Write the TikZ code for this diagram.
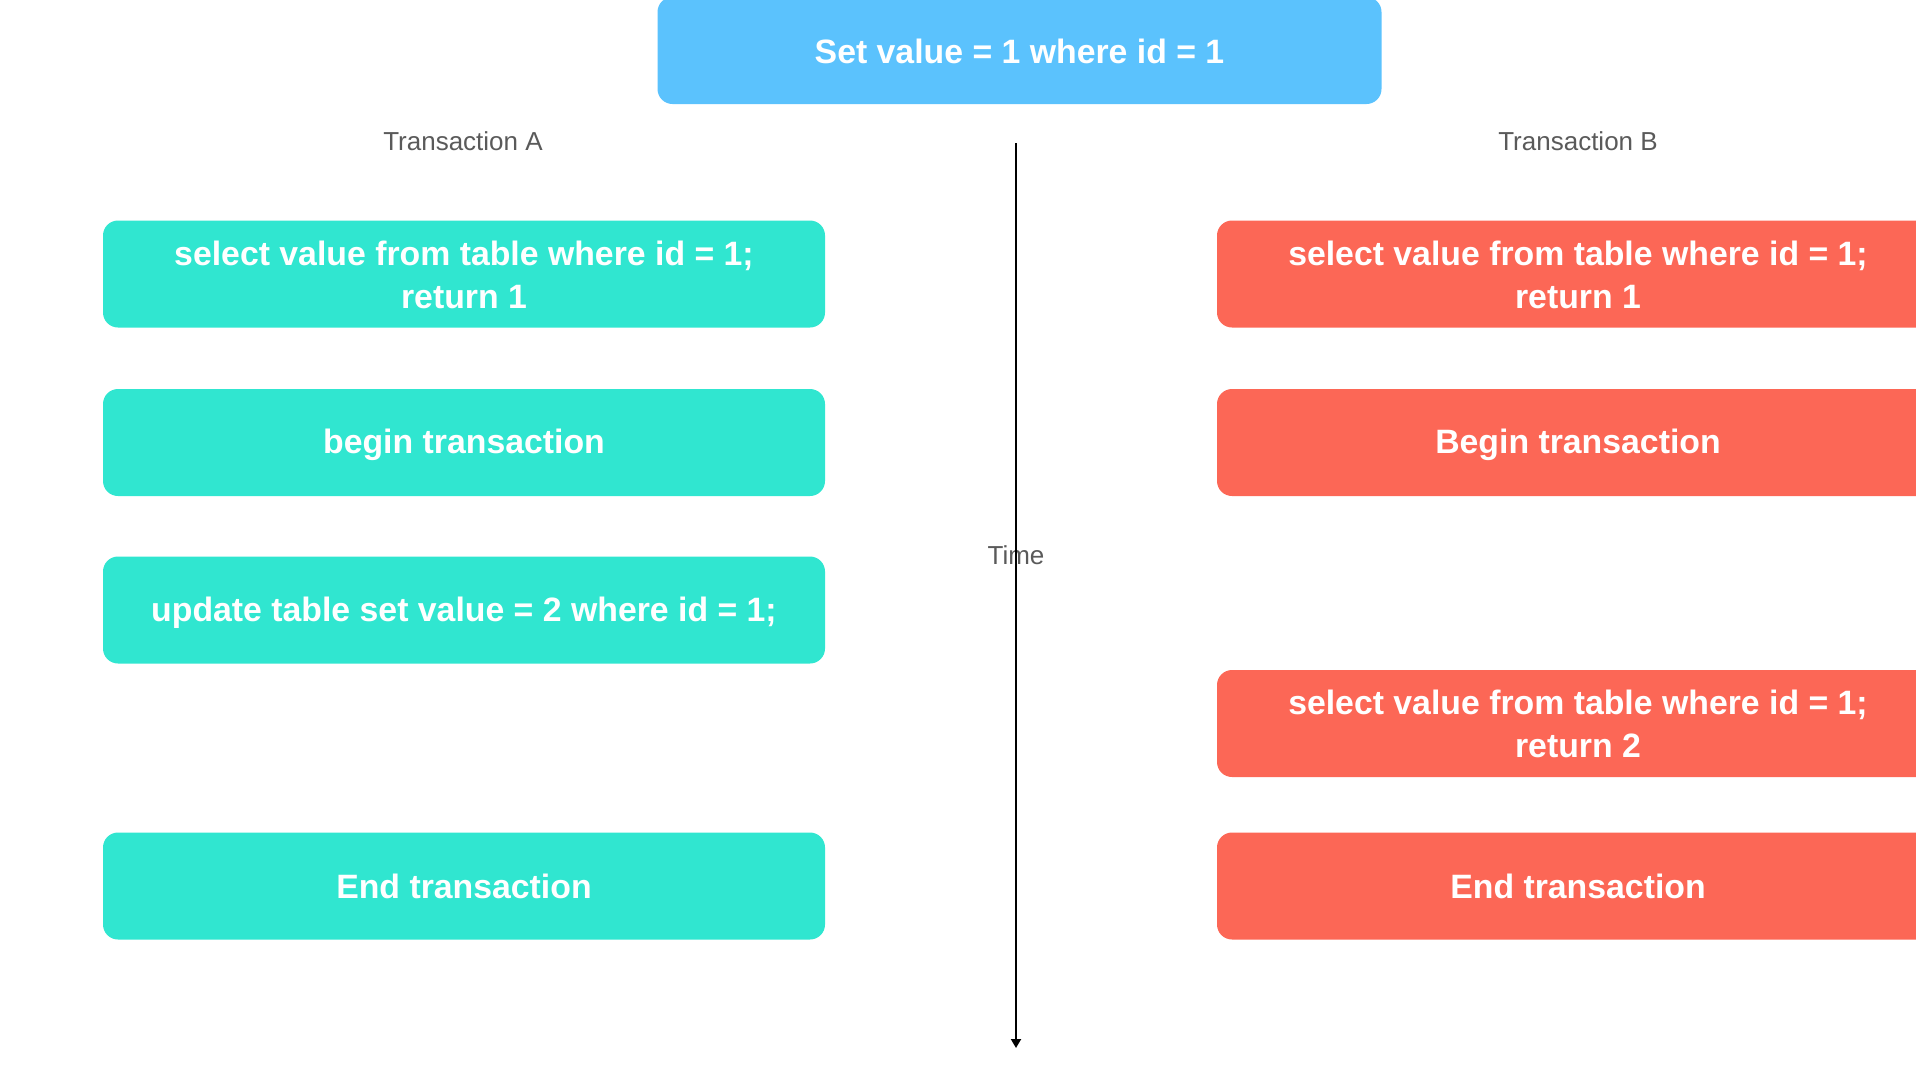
\documentclass[tikz,border=0pt]{standalone}
\usepackage{fontspec}
\setmainfont{Liberation Sans}
\usetikzlibrary{arrows.meta}
\usetikzlibrary{positioning}

\definecolor{topblue}{RGB}{91,194,253}
\definecolor{txgreen}{RGB}{48,230,208}
\definecolor{txred}{RGB}{252,103,86}
\definecolor{labelgray}{RGB}{90,90,90}

\newcommand{\txstrut}{\rule[-2.45pt]{0pt}{17.5pt}}

\tikzset{
  txbox/.style={rectangle,rounded corners=7.5pt,minimum width=361pt,minimum height=53.5pt,
    inner sep=0pt,align=center,text=white,font=\fontsize{16.9}{21.5}\selectfont\bfseries},
  txA/.style={txbox,fill=txgreen},
  txB/.style={txbox,fill=txred},
  txlabel/.style={inner sep=0pt,text=labelgray,font=\fontsize{13}{16}\selectfont}
}

\begin{document}
\begin{tikzpicture}[x=0.5pt,y=-0.5pt]

  \useasboundingbox (0,0) rectangle (1916,1088);

  \node [txbox,fill=topblue,minimum width=362pt] (set) at (1019.5,50.5) {\txstrut Set value = 1 where id = 1};

  \node [txlabel] (labA) at (463,141) {Transaction A};
  \node [txlabel] (labB) at (1578,141) {Transaction B};

  \node [txA] (A_select) at (464,274)   {\txstrut select value from table where id = 1;\\ \txstrut return 1};
  \node [txA] (A_begin)  at (464,442.5) {\txstrut begin transaction};
  \node [txA] (A_update) at (464,610)   {\txstrut update table set value = 2 where id = 1;};
  \node [txA] (A_end)    at (464,886)   {\txstrut End transaction};

  \node [txB] (B_select) at (1578,274)   {\txstrut select value from table where id = 1;\\ \txstrut return 1};
  \node [txB] (B_begin)  at (1578,442.5) {\txstrut Begin transaction};
  \node [txB] (B_reread) at (1578,723.5) {\txstrut select value from table where id = 1;\\ \txstrut return 2};
  \node [txB] (B_end)    at (1578,886)   {\txstrut End transaction};

  \node [txlabel] (time) at (1016,555) {Time};

  \coordinate (time_top) at (1016,143);
  \coordinate (time_bot) at (1016,1048);

  \path [draw,line width=1pt,-{Triangle[width=5pt,length=4.5pt]}]
    (time_top) -- (time_bot);

\end{tikzpicture}
\end{document}
